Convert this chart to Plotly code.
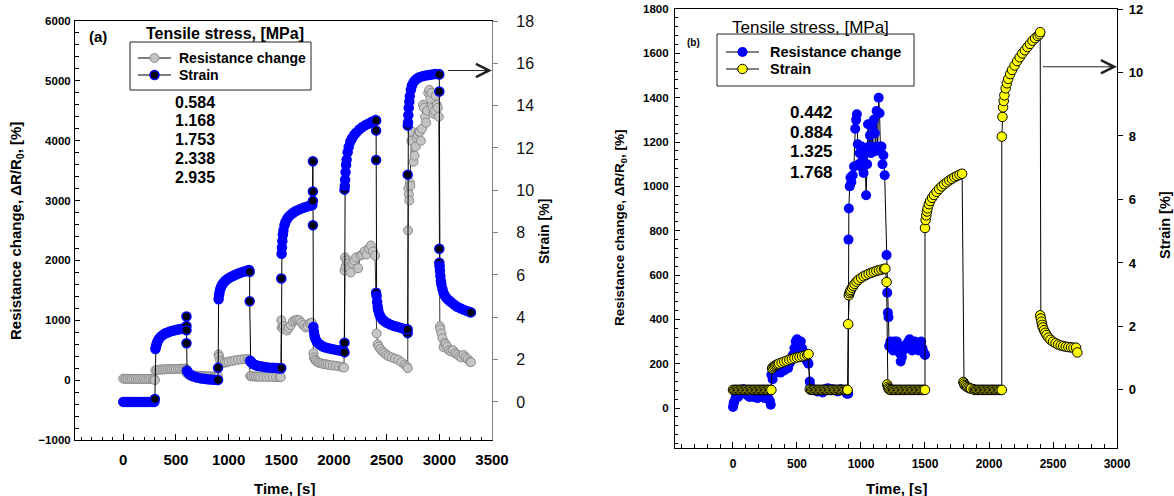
import plotly.graph_objects as go

W, H = 1174, 496
FONT = "Liberation Sans, Arial, sans-serif"

# ---------------- Panel (a) data ----------------
a_strain_t = [0, 20, 40, 60, 80, 100, 120, 140, 160, 180, 200, 220, 240, 260, 280, 295,
              300,
              305, 310, 315, 320, 330, 340, 350, 365, 380, 400, 420, 440, 460, 480, 500, 520, 540, 560, 580, 595,
              600, 600, 600, 600,
              605, 610, 620, 630, 640, 650, 670, 690, 710, 740, 770, 800, 830, 860, 890,
              900, 900,
              905, 910, 915, 920, 930, 940, 950, 965, 980, 1000, 1020, 1040, 1060, 1080, 1100, 1120, 1140, 1160, 1180, 1195,
              1200, 1200,
              1205, 1210, 1220, 1230, 1245, 1260, 1280, 1300, 1330, 1360, 1390, 1420, 1450, 1480, 1495,
              1500, 1500,
              1503, 1506, 1510, 1515, 1520, 1530, 1540, 1555, 1570, 1590, 1610, 1630, 1650, 1680, 1710, 1740, 1770, 1795,
              1800, 1800, 1800, 1800,
              1805, 1810, 1815, 1820, 1830, 1840, 1850, 1865, 1880, 1900, 1920, 1950, 1980, 2010, 2040, 2070, 2095,
              2100, 2100, 2100,
              2103, 2106, 2110, 2115, 2120, 2130, 2140, 2155, 2170, 2190, 2210, 2240, 2270, 2300, 2330, 2360, 2395,
              2400, 2400, 2400, 2400,
              2405, 2410, 2415, 2420, 2430, 2440, 2455, 2470, 2490, 2510, 2540, 2570, 2600, 2630, 2660, 2690,
              2700, 2700, 2700, 2700,
              2703, 2706, 2710, 2715, 2720, 2730, 2740, 2755, 2770, 2790, 2810, 2840, 2870, 2900, 2930, 2960, 2995,
              3000, 3000, 3000, 3000,
              3003, 3006, 3010, 3015, 3020, 3030, 3040, 3055, 3070, 3090, 3110, 3140, 3170, 3200, 3230, 3260, 3290, 3300]
a_strain = [0.0, 0.0, 0.0, 0.0, 0.0, 0.0, 0.0, 0.0, 0.0, 0.0, 0.0, 0.0, 0.0, 0.0, 0.0, 0.0,
            0.14,
            2.5, 2.6, 2.7, 2.8, 2.9, 2.98, 3.05, 3.12, 3.18, 3.24, 3.28, 3.32, 3.35, 3.38, 3.4, 3.42, 3.44, 3.46, 3.48, 3.5,
            4.04, 3.59, 3.39, 2.77,
            1.47, 1.42, 1.36, 1.31, 1.27, 1.24, 1.2, 1.17, 1.14, 1.11, 1.09, 1.07, 1.06, 1.05, 1.04,
            1.04, 1.61,
            4.85, 5.05, 5.2, 5.32, 5.45, 5.55, 5.62, 5.7, 5.77, 5.84, 5.9, 5.95, 6.0, 6.04, 6.08, 6.12, 6.15, 6.18, 6.21, 6.23,
            6.15, 4.76,
            1.95, 1.9, 1.85, 1.8, 1.76, 1.73, 1.7, 1.68, 1.66, 1.64, 1.62, 1.61, 1.6, 1.59, 1.58,
            1.6, 5.83,
            7.0, 7.3, 7.6, 7.9, 8.1, 8.35, 8.5, 8.65, 8.75, 8.85, 8.93, 9.0, 9.05, 9.12, 9.17, 9.22, 9.27, 9.3,
            11.37, 9.94, 9.5, 8.35,
            3.54, 3.31, 3.14, 3.03, 2.91, 2.83, 2.77, 2.71, 2.66, 2.61, 2.57, 2.53, 2.5, 2.47, 2.44, 2.42, 2.39,
            2.34, 2.8, 10.03,
            10.2, 10.5, 10.85, 11.2, 11.45, 11.8, 12.05, 12.3, 12.45, 12.6, 12.72, 12.87, 12.99, 13.08, 13.16, 13.24, 13.32,
            13.3, 12.82, 11.43, 5.16,
            5.01, 4.72, 4.5, 4.33, 4.16, 4.04, 3.93, 3.85, 3.78, 3.72, 3.65, 3.59, 3.55, 3.51, 3.46, 3.44,
            3.25, 3.42, 10.74, 13.06,
            13.2, 13.55, 13.9, 14.2, 14.45, 14.75, 14.95, 15.1, 15.2, 15.28, 15.34, 15.39, 15.42, 15.45, 15.47, 15.49, 15.5,
            15.47, 14.67, 7.24, 6.58,
            6.42, 6.2, 5.95, 5.72, 5.55, 5.32, 5.15, 5.0, 4.9, 4.8, 4.72, 4.6, 4.5, 4.42, 4.36, 4.3, 4.25, 4.23]

a_res_t = [0, 20, 40, 60, 80, 100, 120, 140, 160, 180, 200, 220, 240, 260, 280, 295, 300,
           305, 320, 340, 360, 380, 400, 420, 440, 460, 480, 500, 520, 540, 560, 580, 595, 600,
           605, 620, 640, 660, 680, 700, 720, 740, 760, 780, 800, 820, 840, 860, 880, 895,
           900, 905, 910, 920, 940, 960, 980, 1000, 1030, 1060, 1090, 1120, 1150, 1180, 1195,
           1205, 1220, 1240, 1260, 1280, 1300, 1330, 1360, 1390, 1420, 1450, 1480, 1495,
           1500, 1505, 1515, 1525, 1540, 1555, 1570, 1590, 1610, 1630, 1650, 1670, 1690, 1710, 1730, 1750, 1770, 1790,
           1805, 1810, 1820, 1830, 1845, 1860, 1880, 1900, 1920, 1940, 1960, 1990, 2020, 2050, 2080, 2095,
           2100, 2105, 2110, 2120, 2130, 2140, 2150, 2160, 2175, 2190, 2210, 2230, 2250, 2270, 2290, 2310, 2330, 2350, 2370, 2390,
           2405, 2415, 2425, 2440, 2460, 2480, 2500, 2520, 2550, 2580, 2610, 2640, 2670, 2690, 2700,
           2703, 2706, 2710, 2715, 2720, 2725, 2735, 2745, 2755, 2765, 2775, 2785, 2795, 2805, 2815, 2825, 2835,
           2845, 2855, 2865, 2875, 2885, 2895, 2905, 2915, 2925, 2935, 2945, 2955, 2965, 2975, 2985, 2995,
           3000, 3005, 3010, 3020, 3030, 3040, 3050, 3060, 3075, 3090, 3110, 3130, 3150, 3170, 3190, 3210, 3230, 3250, 3270, 3290, 3300]
a_res = [25, 20, 22, 18, 20, 22, 20, 18, 20, 22, 20, 18, 20, 22, 20, 18, 0,
         165, 170, 175, 178, 180, 182, 183, 185, 186, 187, 188, 190, 190, 191, 192, 190, 180,
         110, 95, 85, 80, 75, 72, 70, 68, 66, 65, 64, 63, 62, 60, 60, 58,
         60, 430, 390, 330, 300, 290, 300, 310, 320, 330, 340, 345, 350, 355, 330,
         70, 65, 62, 60, 58, 57, 56, 55, 54, 53, 52, 51, 50,
         1000, 880, 860, 900, 850, 830, 870, 920, 980, 1000, 1010, 1000, 960, 920, 880, 900, 950, 960,
         450, 380, 340, 320, 300, 290, 280, 270, 265, 260, 250, 245, 240, 230, 220, 210,
         1830, 2050, 1900, 2000, 1950, 1880, 1850, 1800, 1950, 2000, 2050, 1870, 2080, 2100, 2150, 2100, 2200, 2250, 2150, 2080,
         780, 600, 560, 520, 480, 450, 420, 400, 380, 360, 340, 300, 260, 230, 200,
         2500, 3200, 3100, 3000, 3300, 3250, 4000, 4150, 3650, 3750, 3900, 4050, 4100, 4150, 4150, 4000, 4200,
         4600, 4550, 4400, 4300, 4500, 4800, 4850, 4700, 4800, 4550, 4450, 4500, 4750, 4600, 4550, 4400,
         1900, 900, 850, 780, 700, 550, 620, 600, 560, 500, 480, 500, 450, 430, 400, 380, 420, 380, 350, 310, 300]

a_stress = ["0.584", "1.168", "1.753", "2.338", "2.935"]

# ---------------- Panel (b) data ----------------
b_res_t = [0, 5, 10, 20, 30, 40, 50, 60, 70, 80, 90, 100, 110, 120, 130, 140, 150, 160, 170, 180, 190,
           200, 210, 220, 230, 240, 250, 260, 270, 280, 290, 295,
           300, 310, 320, 330, 340, 350, 360, 370, 380, 390, 400, 410, 420, 430, 440, 450, 460, 470, 480, 490,
           500, 510, 520, 530, 540, 550, 560, 570, 580, 590,
           600, 605, 610, 620, 640, 660, 680, 700, 720, 740, 760, 780, 800, 820, 840, 860, 880, 890, 895,
           900, 902, 905, 912, 918, 925, 935, 945, 955, 962, 968, 975, 982, 990, 998, 1005, 1012, 1020, 1030, 1040,
           1048, 1055, 1062, 1070, 1078, 1085, 1092, 1100, 1108, 1115, 1122, 1130, 1138, 1145, 1152, 1160, 1168, 1175, 1185,
           1200, 1205, 1210, 1215, 1220, 1230, 1240, 1250, 1260, 1270, 1280, 1290, 1300, 1310, 1320, 1330, 1340, 1350,
           1360, 1370, 1380, 1390, 1400, 1410, 1420, 1430, 1440, 1450, 1460, 1470, 1480, 1490, 1500]
b_res = [5, 20, 30, 45, 55, 50, 60, 75, 70, 85, 80, 75, 60, 55, 50, 60, 55, 50, 55, 60, 45,
         50, 55, 60, 50, 55, 45, 50, 55, 40, 30, 15,
         150, 130, 170, 160, 180, 170, 190, 160, 180, 200, 170, 190, 210, 180, 200, 210, 230, 240, 270, 300,
         310, 280, 290, 300, 270, 250, 230, 220, 210, 200,
         120, 100, 90, 85, 80, 75, 80, 70, 85, 90, 80, 85, 80, 75, 85, 80, 75, 65, 70,
         65, 760, 900, 1000, 1040, 1020, 1050, 1090, 1260, 1300, 1325, 1190, 1100, 1150, 1090, 1180, 1120, 1060, 1150, 960,
         1100, 1280, 1180, 1230, 1150, 1270, 1180, 1300, 1240, 1160, 1340, 1180, 1400, 1330, 1170, 1180, 1100, 1140, 1050,
         690, 520, 430, 410, 280, 300, 290, 260, 300, 280, 300, 270, 250, 210, 230, 260, 280, 270,
         290, 300, 310, 280, 260, 290, 300, 270, 280, 260, 290, 300, 270, 250, 240]

b_strain_t = [0, 10, 20, 30, 40, 50, 60, 70, 80, 90, 100, 110, 120, 130, 140, 150, 160, 170, 180, 190,
              200, 210, 220, 230, 240, 250, 260, 270, 280, 290, 300,
              305, 310, 320, 330, 340, 350, 360, 380, 400, 420, 440, 460, 480, 500, 520, 540, 560, 580, 590,
              600, 610, 620, 630, 640, 650, 660, 670, 680, 690, 700, 710, 720, 730, 740, 750, 760, 770, 780, 790,
              800, 810, 820, 830, 840, 850, 860, 870, 880, 890, 895,
              900, 905, 910, 915, 920, 930, 940, 950, 965, 980, 1000, 1020, 1040, 1060, 1080, 1100, 1120, 1140, 1160, 1180, 1190,
              1200, 1205, 1210, 1215, 1220,
              1230, 1240, 1250, 1260, 1270, 1280, 1290, 1300, 1310, 1320, 1330, 1340, 1350, 1360, 1370, 1380, 1390,
              1400, 1410, 1420, 1430, 1440, 1450, 1460, 1470, 1480, 1490, 1500,
              1500, 1505, 1510, 1515, 1520, 1530, 1540, 1555, 1570, 1590, 1610, 1630, 1650, 1670, 1690, 1710, 1730, 1750, 1770, 1790,
              1800, 1805, 1810, 1820, 1830, 1840, 1850, 1860, 1880,
              1890, 1900, 1910, 1920, 1930, 1940, 1950, 1960, 1970, 1980, 1990, 2000, 2010, 2020, 2030, 2040, 2050,
              2060, 2070, 2080, 2090, 2100,
              2100, 2105, 2110, 2115, 2120, 2130, 2140, 2150, 2165, 2180, 2200, 2220, 2240, 2260, 2280, 2300, 2320, 2340, 2360, 2380, 2395, 2400,
              2400, 2405, 2410, 2415, 2420, 2430, 2440, 2450, 2465, 2480, 2500, 2520, 2540, 2560, 2580, 2600, 2620, 2640, 2660, 2680, 2690]
b_strain = [0.0, 0.0, 0.0, 0.0, 0.0, 0.0, 0.0, 0.0, 0.0, 0.0, 0.0, 0.0, 0.0, 0.0, 0.0, 0.0, 0.0, 0.0, 0.0, 0.0,
            0.0, 0.0, 0.0, 0.0, 0.0, 0.0, 0.0, 0.0, 0.0, 0.0, 0.0,
            0.67, 0.71, 0.74, 0.77, 0.79, 0.81, 0.83, 0.86, 0.89, 0.92, 0.95, 0.97, 1.0, 1.02, 1.04, 1.06, 1.08, 1.1, 1.13,
            0.02, 0.0, 0.0, 0.0, 0.0, 0.0, 0.0, 0.0, 0.0, 0.0, 0.0, 0.0, 0.0, 0.0, 0.0, 0.0, 0.0, 0.0, 0.0, 0.0,
            0.0, 0.0, 0.0, 0.0, 0.0, 0.0, 0.0, 0.0, 0.0, 0.0, 0.0,
            2.07, 2.98, 3.05, 3.1, 3.15, 3.22, 3.28, 3.34, 3.41, 3.47, 3.53, 3.58, 3.62, 3.66, 3.69, 3.72, 3.75, 3.77, 3.79, 3.81, 3.82,
            3.4, 0.17, 0.1, 0.05, 0.02,
            0.0, 0.0, 0.0, 0.0, 0.0, 0.0, 0.0, 0.0, 0.0, 0.0, 0.0, 0.0, 0.0, 0.0, 0.0, 0.0, 0.0,
            0.0, 0.0, 0.0, 0.0, 0.0, 0.0, 0.0, 0.0, 0.0, 0.0, 0.0,
            5.1, 5.35, 5.5, 5.62, 5.72, 5.85, 5.95, 6.05, 6.14, 6.24, 6.33, 6.41, 6.48, 6.54, 6.6, 6.65, 6.7, 6.74, 6.78, 6.81,
            0.25, 0.2, 0.15, 0.12, 0.09, 0.07, 0.05, 0.04, 0.02,
            0.0, 0.0, 0.0, 0.0, 0.0, 0.0, 0.0, 0.0, 0.0, 0.0, 0.0, 0.0, 0.0, 0.0, 0.0, 0.0, 0.0,
            0.0, 0.0, 0.0, 0.0, 0.0,
            7.98, 8.6, 8.9, 9.1, 9.28, 9.5, 9.66, 9.8, 9.95, 10.08, 10.22, 10.36, 10.48, 10.6, 10.7, 10.8, 10.9, 11.0, 11.08, 11.15, 11.2, 11.27,
            2.35, 2.25, 2.15, 2.05, 1.97, 1.88, 1.8, 1.73, 1.65, 1.58, 1.52, 1.47, 1.43, 1.4, 1.38, 1.36, 1.35, 1.34, 1.33, 1.33, 1.18]

b_stress = ["0.442", "0.884", "1.325", "1.768"]

legend_labels = ["Resistance change", "Strain"]

for a, b, n in [(a_strain_t, a_strain, "a_strain"), (a_res_t, a_res, "a_res"),
                (b_res_t, b_res, "b_res"), (b_strain_t, b_strain, "b_strain")]:
    assert len(a) == len(b), (n, len(a), len(b))


def px(x):
    return x / W


def py(y):
    return 1 - y / H


def f(size, weight="bold", color="black"):
    return dict(family=FONT, size=size, color=color, weight=weight)


# marker styles (shared by traces and the hand-drawn legends)
A_RES_M = dict(size=9, color="#c4c4c4", line=dict(color="#8a8a8a", width=1))
A_STR_EDGE = "#0000ff"
B_RES_M = dict(size=10, color="#0000ff", line=dict(width=0))
B_STR_M = dict(size=9.5, color="#ffff00", line=dict(color="#000000", width=1))

fig = go.Figure()

# Panel (a)
fig.add_trace(go.Scatter(
    x=a_res_t, y=a_res, name=legend_labels[0], mode="lines+markers",
    line=dict(color="#333333", width=1), marker=A_RES_M,
    xaxis="x", yaxis="y", showlegend=False))
a_fill = ["#000000" if (t % 300 == 0 and t > 0) else "#0000ff" for t in a_strain_t]
fig.add_trace(go.Scatter(
    x=a_strain_t, y=a_strain, name=legend_labels[1], mode="lines+markers",
    line=dict(color="#000000", width=1),
    marker=dict(size=9, color=a_fill, line=dict(color=A_STR_EDGE, width=1.5)),
    xaxis="x", yaxis="y2", showlegend=False))

# Panel (b)
fig.add_trace(go.Scatter(
    x=b_res_t, y=b_res, name=legend_labels[0], mode="lines+markers",
    line=dict(color="#000000", width=1), marker=B_RES_M,
    xaxis="x2", yaxis="y3", showlegend=False))
fig.add_trace(go.Scatter(
    x=b_strain_t, y=b_strain, name=legend_labels[1], mode="lines+markers",
    line=dict(color="#000000", width=1), marker=B_STR_M,
    xaxis="x2", yaxis="y4", showlegend=False))

fig.update_layout(
    width=W, height=H,
    margin=dict(l=0, r=0, t=0, b=0, autoexpand=False),
    paper_bgcolor="white", plot_bgcolor="white",
    font=dict(family=FONT, color="black"),
    showlegend=False,
    xaxis=dict(domain=[px(75), px(492)], range=[-458, 3500], anchor="y", automargin=False,
               showline=True, linecolor="black", linewidth=1, mirror=True,
               showgrid=False, zeroline=False, tick0=0, dtick=500,
               ticks="inside", ticklen=6, tickcolor="black", ticklabelstandoff=6,
               minor=dict(dtick=100, tick0=0, ticks="inside", ticklen=3, tickcolor="black", showgrid=False),
               tickfont=f(15)),
    yaxis=dict(domain=[py(440), py(21)], range=[-1000, 6000], anchor="x", automargin=False,
               showline=True, linecolor="black", linewidth=1,
               showgrid=False, zeroline=False, tick0=0, dtick=1000,
               ticks="inside", ticklen=5, tickcolor="black", ticklabelstandoff=1,
               minor=dict(dtick=200, tick0=0, ticks="inside", ticklen=4, tickcolor="black", showgrid=False),
               tickfont=f(11.5)),
    yaxis2=dict(overlaying="y", side="right", anchor="x", range=[-1.8, 18], automargin=False,
                showline=True, linecolor="#7f7f7f", linewidth=1.2,
                showgrid=False, zeroline=False, tick0=0, dtick=2,
                ticks="outside", ticklen=5, tickcolor="#7f7f7f", ticklabelstandoff=15,
                tickfont=f(16, "normal", "#111111")),
    xaxis2=dict(domain=[px(675), px(1117)], range=[-453, 3000], anchor="y3", automargin=False,
                showline=True, linecolor="black", linewidth=1.2, mirror=True,
                showgrid=False, zeroline=False, tick0=0, dtick=500,
                ticks="inside", ticklen=6, tickcolor="black", ticklabelstandoff=4,
                minor=dict(dtick=100, tick0=0, ticks="inside", ticklen=4, tickcolor="black", showgrid=False),
                tickfont=f(12)),
    yaxis3=dict(domain=[py(448), py(9)], range=[-180, 1800], anchor="x2", automargin=False,
                showline=True, linecolor="black", linewidth=1.2,
                showgrid=False, zeroline=False, tick0=0, dtick=200,
                ticks="inside", ticklen=5, tickcolor="black", ticklabelstandoff=3,
                minor=dict(dtick=40, tick0=0, ticks="inside", ticklen=3, tickcolor="black", showgrid=False),
                tickfont=f(11.5)),
    yaxis4=dict(overlaying="y3", side="right", anchor="x2", range=[-1.83, 12], automargin=False,
                showline=True, linecolor="black", linewidth=1.2,
                showgrid=False, zeroline=False, tick0=0, dtick=2,
                ticks="outside", ticklen=5, tickcolor="black", ticklabelstandoff=3,
                tickfont=f(13)),
)

ann = []
# axis titles
ann.append(dict(x=px(16), y=py(231), text="Resistance change, \u0394R/R<sub>0</sub>, [%]", textangle=-90, font=f(15)))
ann.append(dict(x=px(284), y=py(488), text="Time, [s]", font=f(15)))
ann.append(dict(x=px(544), y=py(232), text="Strain [%]", textangle=-90, font=f(14)))
ann.append(dict(x=px(620), y=py(228), text="Resistance change, \u0394R/R<sub>0</sub>, [%]", textangle=-90, font=f(13.5)))
ann.append(dict(x=px(896), y=py(488), text="Time, [s]", font=f(15)))
ann.append(dict(x=px(1165), y=py(225), text="Strain [%]", textangle=-90, font=f(14.5)))
# panel labels and legend titles
ann.append(dict(x=px(98), y=py(37), text="(a)", font=f(15)))
ann.append(dict(x=px(225), y=py(33), text="Tensile stress, [MPa]", font=f(16)))
ann.append(dict(x=px(693), y=py(42), text="(b)", font=f(10)))
ann.append(dict(x=px(810), y=py(27), text="Tensile stress, [MPa]", font=f(17, "normal")))
# stress values
a_y = [102, 121, 139, 158, 177]
for s, yy in zip(a_stress, a_y):
    ann.append(dict(x=px(195), y=py(yy), text=s, font=f(16)))
b_y = [113, 133, 152, 172]
for s, yy in zip(b_stress, b_y):
    ann.append(dict(x=px(811), y=py(yy), text=s, font=f(17)))
for a in ann:
    a.update(xref="paper", yref="paper", showarrow=False, xanchor="center", yanchor="middle")

# ---------- hand-drawn legends (box, sample line, sample marker, label) ----------
shapes = []


def legend_box(x0, y0, x1, y1, items, line_x0, line_x1, text_x, font_size):
    shapes.append(dict(type="rect", xref="paper", yref="paper", x0=px(x0), x1=px(x1), y0=py(y1), y1=py(y0),
                       line=dict(color="#222222", width=1), fillcolor="white", layer="above"))
    for yy, label, fill, edge, ew, size in items:
        shapes.append(dict(type="line", xref="paper", yref="paper", x0=px(line_x0), x1=px(line_x1),
                           y0=py(yy), y1=py(yy), line=dict(color="black", width=1), layer="above"))
        cx = (line_x0 + line_x1) / 2
        r = size / 2
        shapes.append(dict(type="circle", xref="paper", yref="paper", xsizemode="pixel", ysizemode="pixel",
                           xanchor=px(cx), yanchor=py(yy), x0=-r, x1=r, y0=-r, y1=r,
                           fillcolor=fill, line=dict(color=edge, width=ew), layer="above"))
        ann.append(dict(x=px(text_x), y=py(yy), xref="paper", yref="paper", text=label, showarrow=False,
                        xanchor="left", yanchor="middle", font=f(font_size)))


legend_box(130, 42, 311, 90,
           [(58, legend_labels[0], "#c4c4c4", "#8a8a8a", 1, 9),
            (75, legend_labels[1], "#000000", A_STR_EDGE, 1.5, 9)],
           138, 171, 177, 14)
legend_box(717, 34, 914, 86,
           [(52, legend_labels[0], "#0000ff", "#0000ff", 0, 10),
            (69, legend_labels[1], "#ffff00", "#000000", 1, 9.5)],
           726, 759, 768, 14.5)

# arrows pointing to the strain axes
ann.append(dict(x=3500, y=15.66, xref="x", yref="y2", ax=3068, ay=15.66, axref="x", ayref="y2",
                showarrow=True, arrowhead=5, arrowsize=2.6, arrowwidth=1, arrowcolor="#222222", text=""))
ann.append(dict(x=3000, y=10.18, xref="x2", yref="y4", ax=2410, ay=10.18, axref="x2", ayref="y4",
                showarrow=True, arrowhead=5, arrowsize=2.6, arrowwidth=1, arrowcolor="#222222", text=""))
fig.update_layout(annotations=ann, shapes=shapes)

fig.write_html("out.html")
